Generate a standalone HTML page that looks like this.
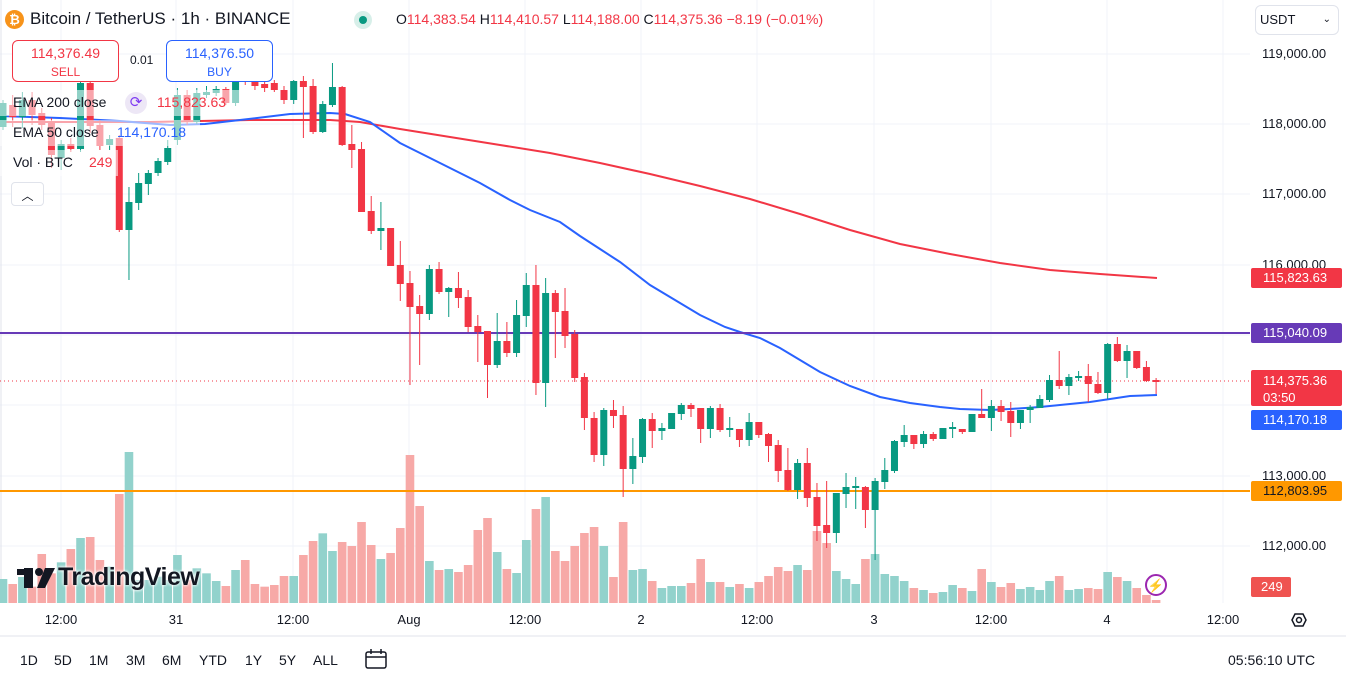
<!DOCTYPE html>
<html><head><meta charset="utf-8">
<style>
body{margin:0;width:1346px;height:683px;overflow:hidden;background:#fff;font-family:"Liberation Sans",sans-serif;color:#131722;position:relative}
.a{position:absolute;white-space:nowrap}
.pl{position:absolute;left:1251px;width:91px;height:20px;color:#fff;font-size:13px;line-height:20px;padding-left:12px;box-sizing:border-box;border-radius:2px}
.ax{position:absolute;left:1262px;font-size:13px;color:#131722}
.tl{position:absolute;top:612px;font-size:13px;transform:translateX(-50%)}
.bb{position:absolute;top:652px;font-size:14px}
.fd{position:absolute;left:0;height:26px;background:rgba(255,255,255,0.55)}
</style></head><body>
<svg id="s" width="1346" height="683" style="position:absolute;left:0;top:0"></svg>

<div class="fd" style="top:90px;width:240px"></div>
<div class="fd" style="top:120px;width:200px"></div>
<div class="fd" style="top:150px;width:118px"></div>

<div class="a" style="left:5px;top:10px;width:19px;height:19px;border-radius:50%;background:#f7931a;color:#fff;font-size:13px;font-weight:bold;text-align:center;line-height:19px">₿</div>
<div class="a" style="left:30px;top:9px;font-size:17px">Bitcoin / TetherUS · 1h · BINANCE</div>
<div class="a" style="left:354px;top:11px;width:18px;height:18px;border-radius:50%;background:#d7efe9"></div>
<div class="a" style="left:359px;top:16px;width:8px;height:8px;border-radius:50%;background:#089981"></div>
<div class="a" style="left:396px;top:11px;font-size:14px">O<span style="color:#f23645">114,383.54</span> H<span style="color:#f23645">114,410.57</span> L<span style="color:#f23645">114,188.00</span> C<span style="color:#f23645">114,375.36 −8.19 (−0.01%)</span></div>
<div class="a" style="left:1255px;top:5px;width:84px;height:30px;border:1px solid #e0e3eb;border-radius:6px;box-sizing:border-box;font-size:13px;line-height:28px;padding-left:4px">USDT<span style="position:absolute;right:7px;font-size:10px">⌄</span></div>

<div class="a" style="left:12px;top:40px;width:107px;height:42px;border:1px solid #f23645;border-radius:6px;box-sizing:border-box;background:#fff;text-align:center;color:#f23645;font-size:14px;line-height:18px;padding-top:3px">114,376.49<br><span style="font-size:12px">SELL</span></div>
<div class="a" style="left:130px;top:53px;font-size:12px">0.01</div>
<div class="a" style="left:166px;top:40px;width:107px;height:42px;border:1px solid #2962ff;border-radius:6px;box-sizing:border-box;background:#fff;text-align:center;color:#2962ff;font-size:14px;line-height:18px;padding-top:3px">114,376.50<br><span style="font-size:12px">BUY</span></div>

<div class="a" style="left:13px;top:94px;font-size:14px">EMA 200 close</div>
<div class="a" style="left:125px;top:92px;width:22px;height:22px;border-radius:50%;background:#ede7f6;color:#7e3bf2;text-align:center;line-height:22px;font-size:15px">⟳</div>
<div class="a" style="left:157px;top:94px;font-size:14px;color:#f23645">115,823.63</div>
<div class="a" style="left:13px;top:124px;font-size:14px">EMA 50 close</div>
<div class="a" style="left:117px;top:124px;font-size:14px;color:#2962ff">114,170.18</div>
<div class="a" style="left:13px;top:154px;font-size:14px">Vol · BTC</div>
<div class="a" style="left:89px;top:154px;font-size:14px;color:#f23645">249</div>
<div class="a" style="left:11px;top:182px;width:33px;height:24px;border:1px solid #e0e3eb;border-radius:4px;box-sizing:border-box;background:#fff;text-align:center;font-size:12px;line-height:26px">︿</div>

<svg class="a" style="left:14px;top:564px" width="44" height="26"><rect x="2" y="4" width="18" height="8" fill="#131722" stroke="#fff" stroke-width="2"/><rect x="10" y="4" width="9" height="20" fill="#131722"/><circle cx="25" cy="8" r="4" fill="#131722"/><polygon points="31,4 41,4 31,24 23,24" fill="#131722"/></svg>
<div class="a" style="left:58px;top:563px;font-size:25px;font-weight:bold;letter-spacing:-0.5px;color:#131722;text-shadow:0 0 3px #fff,0 0 3px #fff">TradingView</div>
<div class="a" style="left:1145px;top:574px;width:22px;height:22px;border:2px solid #9c27b0;border-radius:50%;box-sizing:border-box;color:#9c27b0;text-align:center;font-size:13px;line-height:19px">⚡</div>

<div class="ax" style="top:46px">119,000.00</div>
<div class="ax" style="top:116px">118,000.00</div>
<div class="ax" style="top:186px">117,000.00</div>
<div class="ax" style="top:257px">116,000.00</div>
<div class="ax" style="top:468px">113,000.00</div>
<div class="ax" style="top:538px">112,000.00</div>
<div class="pl" style="top:268px;background:#f23645">115,823.63</div>
<div class="pl" style="top:323px;background:#673ab7">115,040.09</div>
<div class="pl" style="top:370px;height:36px;background:#f23645;line-height:17px;padding-top:2px">114,375.36<br>03:50</div>
<div class="pl" style="top:410px;background:#2962ff">114,170.18</div>
<div class="pl" style="top:481px;background:#ff9800;color:#131722">112,803.95</div>
<div class="pl" style="top:577px;width:40px;background:#ef5350;padding-left:10px">249</div>

<div class="tl" style="left:61px">12:00</div>
<div class="tl" style="left:176px">31</div>
<div class="tl" style="left:293px">12:00</div>
<div class="tl" style="left:409px">Aug</div>
<div class="tl" style="left:525px">12:00</div>
<div class="tl" style="left:641px">2</div>
<div class="tl" style="left:757px">12:00</div>
<div class="tl" style="left:874px">3</div>
<div class="tl" style="left:991px">12:00</div>
<div class="tl" style="left:1107px">4</div>
<div class="tl" style="left:1223px">12:00</div>

<div class="bb" style="left:20px">1D</div><div class="bb" style="left:54px">5D</div><div class="bb" style="left:89px">1M</div><div class="bb" style="left:126px">3M</div><div class="bb" style="left:162px">6M</div><div class="bb" style="left:199px">YTD</div><div class="bb" style="left:245px">1Y</div><div class="bb" style="left:279px">5Y</div><div class="bb" style="left:313px">ALL</div>
<div class="bb" style="left:1228px">05:56:10 UTC</div>

<script>
(function(){
var s=document.getElementById('s'),h='';
[54,124,194,265,335,405,476,546].forEach(function(y){h+='<line x1="0" y1="'+y+'" x2="1250" y2="'+y+'" stroke="#f0f3fa"/>';});
[61,176,293,409,525,641,757,874,991,1107,1223].forEach(function(x){h+='<line x1="'+x+'" y1="0" x2="'+x+'" y2="603" stroke="#f0f3fa"/>';});
h+='<line x1="0" y1="636" x2="1346" y2="636" stroke="#e0e3eb"/>';
h+='<line x1="1" y1="0" x2="1" y2="603" stroke="#e0e3eb"/>';
h+='<polygon points="1292,620 1295,614 1303,614 1306,620 1303,626 1295,626" fill="none" stroke="#131722" stroke-width="1.5"/><circle cx="1299" cy="620" r="2.5" fill="none" stroke="#131722" stroke-width="1.5"/>';
h+='<rect x="366" y="652" width="20" height="16" fill="none" stroke="#131722" stroke-width="1.5" rx="2"/><line x1="366" y1="657" x2="386" y2="657" stroke="#131722" stroke-width="1.5"/><line x1="371" y1="649" x2="371" y2="654" stroke="#131722" stroke-width="1.5"/><line x1="381" y1="649" x2="381" y2="654" stroke="#131722" stroke-width="1.5"/>';
var C=[[103,127,100,130,'g'],[105,117,95,127,'r'],[100,117,92,128,'g'],[100,115,92,125,'r'],[113,125,108,130,'r'],[123,155,118,168,'r'],[144,158,140,170,'g'],[144,149,138,152,'r'],[83,149,80,152,'g'],[83,126,80,133,'r'],[125,146,120,150,'r'],[139,145,135,150,'g'],[138,230,135,232,'r'],[202,230,187,280,'g'],[183,203,173,210,'g'],[173,184,170,195,'g'],[161,173,158,176,'g'],[148,162,140,165,'g'],[95,140,88,145,'g'],[95,122,90,125,'r'],[93,122,88,124,'g'],[92,95,86,98,'g'],[89,93,86,96,'g'],[89,103,87,105,'r'],[72,103,68,106,'g'],[75,80,70,85,'r'],[80,86,76,90,'r'],[84,88,78,92,'r'],[83,90,80,92,'r'],[90,100,86,104,'r'],[81,100,80,104,'g'],[81,87,76,138,'r'],[86,132,79,134,'r'],[104,132,101,133,'g'],[87,105,63,107,'g'],[87,145,86,146,'r'],[144,150,125,168,'r'],[149,212,142,212,'r'],[211,231,196,234,'r'],[228,231,202,250,'g'],[228,266,228,266,'r'],[265,284,241,301,'r'],[283,307,271,385,'r'],[306,314,295,365,'r'],[269,314,265,320,'g'],[269,292,262,294,'r'],[288,292,287,317,'g'],[288,298,272,308,'r'],[297,327,290,332,'r'],[326,332,315,362,'r'],[331,365,331,398,'r'],[341,365,313,368,'g'],[341,353,322,357,'r'],[315,353,300,357,'g'],[285,316,273,327,'g'],[285,383,265,395,'r'],[293,383,278,407,'g'],[293,312,290,358,'r'],[311,336,288,348,'r'],[334,378,330,382,'r'],[377,418,373,430,'r'],[418,455,412,462,'r'],[410,455,408,466,'g'],[410,416,400,428,'r'],[415,469,406,497,'r'],[456,469,438,484,'g'],[419,457,418,463,'g'],[419,431,413,448,'r'],[428,431,423,440,'g'],[413,429,413,429,'g'],[405,414,403,420,'g'],[405,409,403,417,'r'],[408,429,408,443,'r'],[408,429,406,438,'g'],[408,430,404,432,'r'],[428,430,417,437,'g'],[429,440,429,447,'r'],[422,440,413,446,'g'],[422,435,422,438,'r'],[434,446,433,462,'r'],[445,471,440,482,'r'],[470,490,448,491,'r'],[463,490,459,499,'g'],[463,498,448,507,'r'],[497,526,483,541,'r'],[525,533,481,548,'r'],[493,533,493,543,'g'],[487,494,473,508,'g'],[486,488,477,509,'g'],[487,510,486,528,'r'],[481,510,478,560,'g'],[470,482,458,489,'g'],[441,471,440,473,'g'],[435,442,425,447,'g'],[435,444,435,449,'r'],[434,444,431,448,'g'],[434,439,432,441,'r'],[428,439,428,439,'g'],[427,429,422,438,'g'],[429,432,429,434,'r'],[414,432,414,432,'g'],[414,418,389,418,'r'],[406,418,400,431,'g'],[406,412,400,421,'r'],[411,423,402,437,'r'],[410,423,410,429,'g'],[407,410,405,423,'g'],[399,408,395,408,'g'],[380,400,375,402,'g'],[380,386,351,389,'r'],[377,386,374,395,'g'],[376,378,371,381,'g'],[376,384,364,402,'r'],[384,393,372,394,'r'],[344,393,343,399,'g'],[344,361,337,362,'r'],[351,361,345,378,'g'],[351,368,351,369,'r'],[367,381,361,382,'r'],[380,381,378,394,'r']];
var V1=[417,432,410,440,342,400,367,327,294,291,360,380,162,36,420,420,410,420,345,420,385,400,423,438,390,360,432,440,435,408,408,345,303,280,333,306,318,246,315,357,339,264,45,198,363,390,387,396,375,270,234,336,387,399,300,207,171,333,363,318,279,261];
var V2=[318,411,246,390,387,423,444,438,438,429,357,426,426,441,432,444,426,408,381,393,375,390,273,309,393,417,432,357,342,402,408,423,444,450,459,456,435,444,453,387,426,441,429,447,441,450,423,408,450,447,444,447,396,411,423,444,465,480];
var V=V1.concat(V2);
for(var i=0;i<120;i++){var x=3+i*9.69,c=C[i],vt=440+V[i]/3;
 h+='<rect x="'+(x-4.3)+'" y="'+vt+'" width="8.6" height="'+(603-vt)+'" fill="'+(c[4]=='g'?'#92d2cc':'#f7a9a7')+'"/>';}
var el=[[0,116],[60,118],[120,121],[170,125],[205,124],[240,120],[290,114],[330,113],[345,114],[370,122],[400,143],[420,153],[450,168],[480,183],[510,200],[530,210],[560,222],[580,236],[600,249],[620,262],[650,285],[680,303],[700,315],[725,327],[740,332],[760,338],[780,348],[800,360],[820,372],[850,386],[880,397],[910,403],[940,407],[960,409],[990,410],[1010,409],[1040,407],[1070,404],[1090,402],[1110,399],[1130,396],[1157,395]];
var er=[[0,122],[150,122],[250,120],[330,120],[360,122],[400,129],[450,137],[500,145],[550,153],[600,163],[650,174],[700,186],[750,199],[800,214],[850,230],[900,244],[950,254],[1000,263],[1050,270],[1100,274],[1157,278]];
function pl(p,col){return '<polyline points="'+p.map(function(q){return q.join(',')}).join(' ')+'" fill="none" stroke="'+col+'" stroke-width="2"/>';}
h+=pl(er,'#f23645')+pl(el,'#2962ff');
h+='<line x1="0" y1="333" x2="1250" y2="333" stroke="#673ab7" stroke-width="2"/>';
h+='<line x1="0" y1="491" x2="1250" y2="491" stroke="#ff9800" stroke-width="2"/>';
h+='<line x1="0" y1="381" x2="1250" y2="381" stroke="#f23645" stroke-dasharray="1,3"/>';
for(var i=0;i<120;i++){var x=3+i*9.69,c=C[i],col=c[4]=='g'?'#089981':'#f23645';
 h+='<line x1="'+x+'" y1="'+c[2]+'" x2="'+x+'" y2="'+c[3]+'" stroke="'+col+'"/>';
 h+='<rect x="'+(x-3.5)+'" y="'+c[0]+'" width="7" height="'+Math.max(2,c[1]-c[0])+'" fill="'+col+'"/>';}
s.innerHTML=h;
})();
</script>
</body></html>
